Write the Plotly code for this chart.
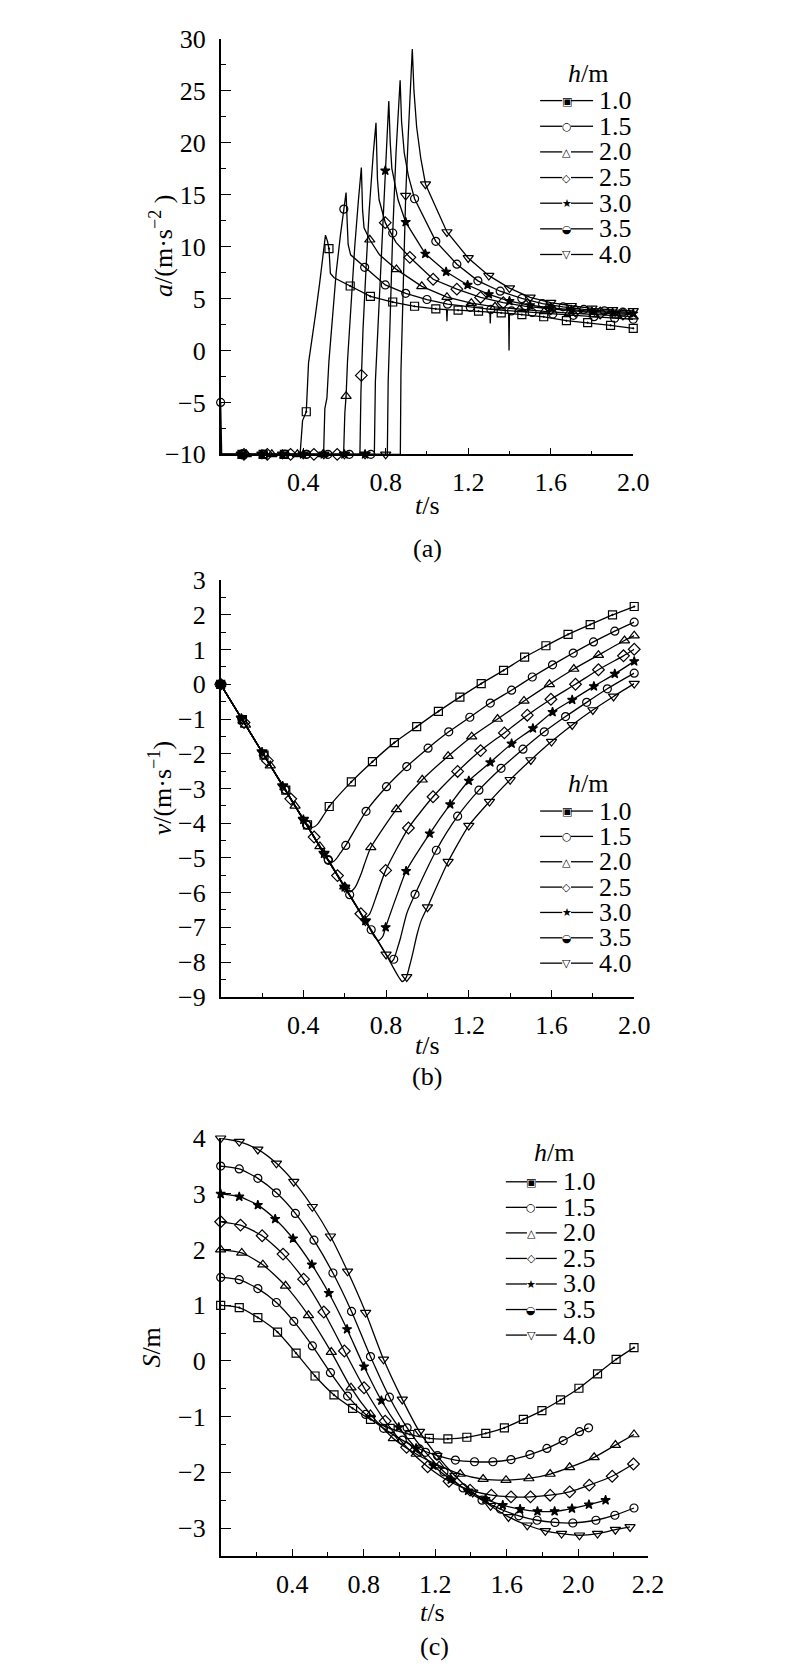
import plotly.graph_objects as go

SERIF = "Liberation Serif"
H_LABELS = ["1.0", "1.5", "2.0", "2.5", "3.0", "3.5", "4.0"]

# ---------------- panel (a): acceleration a (m/s^2) vs t (s) ----------------
A_T_10 = [0, 0.385, 0.397, 0.408, 0.415, 0.426, 0.442, 0.46, 0.48, 0.497, 0.508, 0.518, 0.525, 0.532, 0.55, 0.628, 0.726, 0.834, 0.94, 1.043, 1.095, 1.097, 1.099, 1.151, 1.25, 1.305, 1.307, 1.309, 1.36, 1.396, 1.398, 1.40, 1.46, 1.566, 1.676, 1.779, 1.89, 2.0]
A_V_10 = [-10, -10, -6.75, -6.3, -5.9, -1.2, 0.9, 3.5, 6.5, 9.5, 11.1, 10.5, 9.8, 7.4, 7.0, 6.2, 5.2, 4.66, 4.25, 4.0, 3.92, 2.8, 3.92, 3.87, 3.78, 3.7, 2.6, 3.7, 3.62, 3.57, 0.0, 3.56, 3.45, 3.24, 2.86, 2.67, 2.42, 2.13]
A_MT_10 = [0.103, 0.206, 0.309, 0.415, 0.525, 0.628, 0.726, 0.834, 0.94, 1.043, 1.151, 1.25, 1.36, 1.46, 1.566, 1.676, 1.779, 1.89, 2.0]
A_MV_10 = [-10, -10, -10, -5.9, 9.8, 6.2, 5.2, 4.66, 4.25, 4.0, 3.87, 3.78, 3.62, 3.45, 3.24, 2.86, 2.67, 2.42, 2.13]

A_T_15 = [0, 0.499, 0.505, 0.515, 0.525, 0.54, 0.56, 0.58, 0.597, 0.608, 0.613, 0.618, 0.63, 0.698, 0.798, 0.897, 1.0, 1.1, 1.21, 1.31, 1.41, 1.51, 1.61, 1.71, 1.81, 1.91, 2.0]
A_V_15 = [-10, -10, -5.6, -4.6, -1.0, 3.0, 7.5, 11.0, 13.6, 15.2, 12.5, 10.2, 9.2, 8.0, 6.3, 5.5, 4.9, 4.45, 4.15, 3.95, 3.8, 3.65, 3.5, 3.38, 3.25, 3.1, 3.0]
A_MT_15 = [0.104, 0.208, 0.312, 0.416, 0.597, 0.698, 0.798, 0.897, 1.0, 1.1, 1.21, 1.31, 1.41, 1.51, 1.61, 1.71, 1.81, 1.91, 2.0]
A_MV_15 = [-10, -10, -10, -10, 13.6, 8.0, 6.3, 5.5, 4.9, 4.45, 4.15, 3.95, 3.8, 3.65, 3.5, 3.38, 3.25, 3.1, 3.0]

A_T_20 = [0, 0.596, 0.602, 0.608, 0.615, 0.632, 0.65, 0.668, 0.682, 0.688, 0.695, 0.723, 0.77, 0.852, 0.975, 1.097, 1.215, 1.33, 1.45, 1.57, 1.69, 1.81, 1.92, 2.0]
A_V_20 = [-10, -10, -6.0, -4.4, -1.0, 4.8, 10.0, 14.5, 17.6, 13.5, 11.8, 10.65, 9.2, 7.8, 6.17, 5.13, 4.55, 4.2, 3.95, 3.75, 3.6, 3.45, 3.35, 3.25]
A_MT_20 = [0.124, 0.248, 0.372, 0.496, 0.608, 0.723, 0.852, 0.975, 1.097, 1.215, 1.33, 1.45, 1.57, 1.69, 1.81, 1.92, 2.0]
A_MV_20 = [-10, -10, -10, -10, -4.4, 10.65, 7.8, 6.17, 5.13, 4.55, 4.2, 3.95, 3.75, 3.6, 3.45, 3.35, 3.25]

A_T_25 = [0, 0.675, 0.68, 0.682, 0.69, 0.705, 0.72, 0.74, 0.753, 0.76, 0.768, 0.798, 0.85, 0.917, 1.03, 1.145, 1.26, 1.37, 1.48, 1.6, 1.72, 1.84, 1.95, 2.0]
A_V_25 = [-10, -10, -4.0, -2.4, 2.0, 8.0, 13.5, 19.0, 21.9, 16.5, 14.5, 12.3, 10.4, 8.96, 6.85, 5.9, 5.1, 4.6, 4.25, 4.0, 3.8, 3.6, 3.5, 3.45]
A_MT_25 = [0.113, 0.226, 0.339, 0.452, 0.565, 0.682, 0.798, 0.917, 1.03, 1.145, 1.26, 1.37, 1.48, 1.6, 1.72, 1.84, 1.95]
A_MV_25 = [-10, -10, -10, -10, -10, -2.4, 12.3, 8.96, 6.85, 5.9, 5.1, 4.6, 4.25, 4.0, 3.8, 3.6, 3.5]

A_T_30 = [0, 0.745, 0.75, 0.76, 0.775, 0.79, 0.798, 0.808, 0.815, 0.822, 0.83, 0.86, 0.897, 0.992, 1.093, 1.197, 1.3, 1.4, 1.5, 1.6, 1.7, 1.8, 1.9, 2.0]
A_V_30 = [-10, -10, -3.0, 1.0, 7.0, 13.5, 17.3, 21.5, 24.0, 20.0, 17.5, 14.5, 12.35, 9.3, 7.57, 6.3, 5.4, 4.75, 4.35, 4.1, 3.9, 3.75, 3.65, 3.55]
A_MT_30 = [0.1, 0.2, 0.3, 0.4, 0.5, 0.6, 0.7, 0.798, 0.897, 0.992, 1.093, 1.197, 1.3, 1.4, 1.5, 1.6, 1.7, 1.8, 1.9, 2.0]
A_MV_30 = [-10, -10, -10, -10, -10, -10, -10, 17.3, 12.35, 9.3, 7.57, 6.3, 5.4, 4.75, 4.35, 4.1, 3.9, 3.75, 3.65, 3.55]

A_T_35 = [0, 0.005, 0.808, 0.812, 0.82, 0.834, 0.85, 0.862, 0.87, 0.877, 0.89, 0.91, 0.94, 1.043, 1.145, 1.247, 1.355, 1.46, 1.56, 1.66, 1.76, 1.86, 1.95, 2.0]
A_V_35 = [-5, -10, -10, -3.0, 2.0, 11.3, 19.0, 23.5, 26.0, 22.0, 19.0, 16.8, 14.6, 10.5, 8.3, 6.7, 5.7, 5.0, 4.5, 4.2, 3.95, 3.8, 3.7, 3.65]
A_MT_35 = [0, 0.104, 0.208, 0.312, 0.416, 0.52, 0.624, 0.728, 0.834, 0.94, 1.043, 1.145, 1.247, 1.355, 1.46, 1.56, 1.66, 1.76, 1.86, 1.95]
A_MV_35 = [-5, -10, -10, -10, -10, -10, -10, -10, 11.3, 14.6, 10.5, 8.3, 6.7, 5.7, 5.0, 4.5, 4.2, 3.95, 3.8, 3.7]

A_T_40 = [0, 0.871, 0.874, 0.88, 0.89, 0.897, 0.91, 0.92, 0.929, 0.937, 0.95, 0.97, 0.993, 1.097, 1.2, 1.3, 1.4, 1.5, 1.6, 1.7, 1.8, 1.9, 2.0]
A_V_40 = [-10, -10, -2.0, 2.5, 9.0, 14.9, 21.0, 25.5, 29.0, 25.0, 21.5, 18.5, 16.0, 11.4, 8.9, 7.2, 6.0, 5.1, 4.6, 4.3, 4.05, 3.9, 3.8]
A_MT_40 = [0.1, 0.2, 0.3, 0.4, 0.5, 0.6, 0.7, 0.8, 0.897, 0.993, 1.097, 1.2, 1.3, 1.4, 1.5, 1.6, 1.7, 1.8, 1.9, 2.0]
A_MV_40 = [-10, -10, -10, -10, -10, -10, -10, -10, 14.9, 16.0, 11.4, 8.9, 7.2, 6.0, 5.1, 4.6, 4.3, 4.05, 3.9, 3.8]

# ---------------- panel (b): velocity v (m/s) vs t (s) ----------------
B_T_10 = [0, 0.105, 0.21, 0.315, 0.42, 0.445, 0.47, 0.5, 0.525, 0.632, 0.734, 0.84, 0.948, 1.053, 1.157, 1.26, 1.368, 1.47, 1.573, 1.68, 1.787, 1.895, 2.0]
B_V_10 = [0, -1.02, -2.04, -3.05, -4.05, -4.12, -4.02, -3.75, -3.52, -2.81, -2.23, -1.68, -1.22, -0.78, -0.37, 0.02, 0.4, 0.78, 1.11, 1.44, 1.72, 2.0, 2.24]
B_MT_10 = [0, 0.105, 0.21, 0.315, 0.42, 0.525, 0.632, 0.734, 0.84, 0.948, 1.053, 1.157, 1.26, 1.368, 1.47, 1.573, 1.68, 1.787, 1.895, 2.0]
B_MV_10 = [0, -1.02, -2.04, -3.05, -4.05, -3.52, -2.81, -2.23, -1.68, -1.22, -0.78, -0.37, 0.02, 0.4, 0.78, 1.11, 1.44, 1.72, 2.0, 2.24]

B_T_15 = [0, 0.104, 0.208, 0.312, 0.416, 0.521, 0.54, 0.56, 0.58, 0.605, 0.703, 0.802, 0.9, 1.003, 1.103, 1.205, 1.304, 1.407, 1.507, 1.605, 1.705, 1.803, 1.906, 2.0]
B_V_15 = [0, -1.01, -2.03, -3.04, -4.05, -5.07, -5.12, -5.02, -4.85, -4.64, -3.66, -2.95, -2.37, -1.84, -1.37, -0.95, -0.54, -0.17, 0.21, 0.56, 0.9, 1.22, 1.53, 1.79]
B_MT_15 = [0, 0.104, 0.208, 0.312, 0.416, 0.521, 0.605, 0.703, 0.802, 0.9, 1.003, 1.103, 1.205, 1.304, 1.407, 1.507, 1.605, 1.705, 1.803, 1.906, 2.0]
B_MV_15 = [0, -1.01, -2.03, -3.04, -4.05, -5.07, -4.64, -3.66, -2.95, -2.37, -1.84, -1.37, -0.95, -0.54, -0.17, 0.21, 0.56, 0.9, 1.22, 1.53, 1.79]

B_T_20 = [0, 0.12, 0.24, 0.36, 0.48, 0.6, 0.625, 0.65, 0.68, 0.70, 0.726, 0.85, 0.975, 1.1, 1.214, 1.339, 1.467, 1.59, 1.708, 1.827, 1.953, 2.0]
B_V_20 = [0, -1.17, -2.34, -3.5, -4.67, -5.83, -5.98, -5.85, -5.45, -5.1, -4.7, -3.6, -2.75, -2.07, -1.51, -1.0, -0.48, 0.0, 0.44, 0.84, 1.26, 1.4]
B_MT_20 = [0, 0.12, 0.24, 0.36, 0.48, 0.6, 0.726, 0.85, 0.975, 1.1, 1.214, 1.339, 1.467, 1.59, 1.708, 1.827, 1.953, 2.0]
B_MV_20 = [0, -1.17, -2.34, -3.5, -4.67, -5.83, -4.7, -3.6, -2.75, -2.07, -1.51, -1.0, -0.48, 0.0, 0.44, 0.84, 1.26, 1.4]

B_T_25 = [0, 0.113, 0.226, 0.339, 0.452, 0.565, 0.678, 0.692, 0.72, 0.753, 0.798, 0.908, 1.027, 1.146, 1.257, 1.372, 1.483, 1.597, 1.716, 1.827, 1.948, 2.0]
B_V_25 = [0, -1.1, -2.2, -3.3, -4.4, -5.51, -6.61, -6.75, -6.62, -6.1, -5.36, -4.14, -3.24, -2.51, -1.91, -1.4, -0.89, -0.43, 0.0, 0.42, 0.82, 1.01]
B_MT_25 = [0, 0.113, 0.226, 0.339, 0.452, 0.565, 0.678, 0.798, 0.908, 1.027, 1.146, 1.257, 1.372, 1.483, 1.597, 1.716, 1.827, 1.948, 2.0]
B_MV_25 = [0, -1.1, -2.2, -3.3, -4.4, -5.51, -6.61, -5.36, -4.14, -3.24, -2.51, -1.91, -1.4, -0.89, -0.43, 0.0, 0.42, 0.82, 1.01]

B_T_30 = [0, 0.1, 0.2, 0.3, 0.4, 0.5, 0.6, 0.7, 0.745, 0.765, 0.785, 0.798, 0.815, 0.86, 0.897, 1.011, 1.11, 1.2, 1.304, 1.407, 1.51, 1.605, 1.70, 1.805, 1.906, 2.0]
B_V_30 = [0, -0.98, -1.95, -2.93, -3.9, -4.88, -5.85, -6.82, -7.28, -7.38, -7.25, -7.0, -6.7, -5.95, -5.38, -4.3, -3.46, -2.78, -2.25, -1.71, -1.27, -0.8, -0.45, -0.06, 0.3, 0.66]
B_MT_30 = [0, 0.1, 0.2, 0.3, 0.4, 0.5, 0.6, 0.7, 0.798, 0.897, 1.011, 1.11, 1.2, 1.304, 1.407, 1.51, 1.605, 1.70, 1.805, 1.906, 2.0]
B_MV_30 = [0, -0.98, -1.95, -2.93, -3.9, -4.88, -5.85, -6.82, -7.0, -5.38, -4.3, -3.46, -2.78, -2.25, -1.71, -1.27, -0.8, -0.45, -0.06, 0.3, 0.66]

B_T_35 = [0, 0.104, 0.208, 0.312, 0.416, 0.52, 0.624, 0.728, 0.8, 0.824, 0.837, 0.855, 0.87, 0.9, 0.94, 1.043, 1.146, 1.249, 1.356, 1.462, 1.565, 1.668, 1.77, 1.87, 1.97, 2.0]
B_V_35 = [0, -1.01, -2.02, -3.03, -4.04, -5.05, -6.06, -7.07, -7.78, -7.99, -7.92, -7.6, -7.3, -6.6, -6.05, -4.78, -3.8, -3.05, -2.42, -1.87, -1.37, -0.93, -0.52, -0.13, 0.22, 0.32]
B_MT_35 = [0, 0.104, 0.208, 0.312, 0.416, 0.52, 0.624, 0.728, 0.837, 0.94, 1.043, 1.146, 1.249, 1.356, 1.462, 1.565, 1.668, 1.77, 1.87, 2.0]
B_MV_35 = [0, -1.01, -2.02, -3.03, -4.04, -5.05, -6.06, -7.07, -7.92, -6.05, -4.78, -3.8, -3.05, -2.42, -1.87, -1.37, -0.93, -0.52, -0.13, 0.32]

B_T_40 = [0, 0.1, 0.2, 0.3, 0.4, 0.5, 0.6, 0.7, 0.8, 0.878, 0.897, 0.912, 0.929, 0.95, 0.97, 1.0, 1.1, 1.2, 1.3, 1.4, 1.5, 1.6, 1.7, 1.8, 1.9, 2.0]
B_V_40 = [0, -0.98, -1.95, -2.93, -3.9, -4.88, -5.85, -6.82, -7.78, -8.56, -8.45, -8.15, -7.75, -7.2, -6.8, -6.42, -5.11, -4.07, -3.38, -2.75, -2.18, -1.65, -1.17, -0.74, -0.35, 0.02]
B_MT_40 = [0, 0.1, 0.2, 0.3, 0.4, 0.5, 0.6, 0.7, 0.8, 0.9, 1.0, 1.1, 1.2, 1.3, 1.4, 1.5, 1.6, 1.7, 1.8, 1.9, 2.0]
B_MV_40 = [0, -0.98, -1.95, -2.93, -3.9, -4.88, -5.85, -6.82, -7.78, -8.43, -6.42, -5.11, -4.07, -3.38, -2.75, -2.18, -1.65, -1.17, -0.74, -0.35, 0.02]

# ---------------- panel (c): displacement S (m) vs t (s) ----------------
C_T_10 = [0, 0.104, 0.208, 0.318, 0.422, 0.528, 0.634, 0.738, 0.838, 0.948, 1.058, 1.167, 1.271, 1.377, 1.483, 1.587, 1.693, 1.797, 1.901, 2.004, 2.108, 2.212, 2.312]
C_S_10 = [1.0, 0.96, 0.78, 0.52, 0.14, -0.27, -0.61, -0.85, -1.05, -1.21, -1.32, -1.39, -1.4, -1.37, -1.3, -1.2, -1.05, -0.89, -0.7, -0.49, -0.23, 0.03, 0.24]
C_T_15 = [0, 0.104, 0.208, 0.312, 0.409, 0.513, 0.614, 0.71, 0.811, 0.911, 1.016, 1.112, 1.213, 1.313, 1.42, 1.523, 1.624, 1.73, 1.825, 1.916, 2.007, 2.058]
C_S_15 = [1.5, 1.46, 1.3, 1.05, 0.71, 0.27, -0.21, -0.63, -0.96, -1.21, -1.42, -1.58, -1.7, -1.78, -1.81, -1.81, -1.77, -1.68, -1.57, -1.43, -1.27, -1.2]
C_T_20 = [0, 0.118, 0.236, 0.363, 0.491, 0.619, 0.729, 0.838, 0.966, 1.094, 1.222, 1.34, 1.468, 1.596, 1.724, 1.843, 1.952, 2.089, 2.208, 2.312]
C_S_20 = [2.0, 1.94, 1.73, 1.35, 0.82, 0.16, -0.48, -0.96, -1.39, -1.67, -1.88, -2.03, -2.12, -2.14, -2.11, -2.03, -1.91, -1.73, -1.51, -1.32]
C_T_25 = [0, 0.111, 0.232, 0.349, 0.464, 0.577, 0.692, 0.802, 0.92, 1.04, 1.158, 1.277, 1.395, 1.514, 1.624, 1.733, 1.843, 1.952, 2.062, 2.19, 2.309]
C_S_25 = [2.5, 2.44, 2.25, 1.92, 1.47, 0.88, 0.18, -0.48, -1.08, -1.55, -1.9, -2.16, -2.32, -2.41, -2.44, -2.44, -2.41, -2.35, -2.23, -2.07, -1.85]
C_T_30 = [0, 0.104, 0.208, 0.305, 0.405, 0.51, 0.605, 0.707, 0.802, 0.899, 0.996, 1.093, 1.19, 1.287, 1.384, 1.481, 1.578, 1.675, 1.772, 1.868, 1.965, 2.06, 2.153]
C_S_30 = [3.0, 2.95, 2.8, 2.55, 2.2, 1.73, 1.22, 0.57, -0.1, -0.71, -1.19, -1.57, -1.88, -2.13, -2.33, -2.48, -2.59, -2.66, -2.7, -2.7, -2.65, -2.58, -2.5]
C_T_35 = [0, 0.104, 0.208, 0.312, 0.418, 0.522, 0.628, 0.732, 0.838, 0.944, 1.043, 1.146, 1.249, 1.356, 1.462, 1.565, 1.668, 1.77, 1.87, 1.97, 2.099, 2.205, 2.312]
C_S_35 = [3.5, 3.45, 3.28, 3.02, 2.65, 2.17, 1.58, 0.89, 0.08, -0.65, -1.2, -1.64, -1.99, -2.28, -2.5, -2.66, -2.78, -2.86, -2.9, -2.91, -2.86, -2.77, -2.64]
C_T_40 = [0, 0.104, 0.208, 0.312, 0.409, 0.513, 0.614, 0.71, 0.811, 0.911, 1.016, 1.112, 1.21, 1.31, 1.41, 1.51, 1.61, 1.715, 1.816, 1.907, 2.007, 2.108, 2.208, 2.29]
C_S_40 = [4.0, 3.94, 3.8, 3.55, 3.22, 2.77, 2.24, 1.61, 0.87, 0.03, -0.69, -1.27, -1.7, -2.06, -2.36, -2.6, -2.8, -2.95, -3.05, -3.1, -3.13, -3.1, -3.03, -2.98]

# axis ticks
X_TICKS = [0.4, 0.8, 1.2, 1.6, 2.0]
X_TEXT = ["0.4", "0.8", "1.2", "1.6", "2.0"]
X_TICKS_C = [0.4, 0.8, 1.2, 1.6, 2.0, 2.39]
X_TEXT_C = ["0.4", "0.8", "1.2", "1.6", "2.0", "2.2"]

A_LINES = [(A_T_10, A_V_10), (A_T_15, A_V_15), (A_T_20, A_V_20), (A_T_25, A_V_25), (A_T_30, A_V_30), (A_T_35, A_V_35), (A_T_40, A_V_40)]
A_MARKS = [(A_MT_10, A_MV_10), (A_MT_15, A_MV_15), (A_MT_20, A_MV_20), (A_MT_25, A_MV_25), (A_MT_30, A_MV_30), (A_MT_35, A_MV_35), (A_MT_40, A_MV_40)]
B_LINES = [(B_T_10, B_V_10), (B_T_15, B_V_15), (B_T_20, B_V_20), (B_T_25, B_V_25), (B_T_30, B_V_30), (B_T_35, B_V_35), (B_T_40, B_V_40)]
B_MARKS = [(B_MT_10, B_MV_10), (B_MT_15, B_MV_15), (B_MT_20, B_MV_20), (B_MT_25, B_MV_25), (B_MT_30, B_MV_30), (B_MT_35, B_MV_35), (B_MT_40, B_MV_40)]
C_LINES = [(C_T_10, C_S_10), (C_T_15, C_S_15), (C_T_20, C_S_20), (C_T_25, C_S_25), (C_T_30, C_S_30), (C_T_35, C_S_35), (C_T_40, C_S_40)]

SYMBOLS = ["square-open-dot", "circle-open", "triangle-up-open", "diamond-open", "star", "circle-open", "triangle-down-open"]
SIZES = [8, 8, 9, 9, 7, 8, 9]
LEGEND_GLYPHS = ["▣", "○", "△", "◇", "★", "◒", "▽"]

W, H = 800, 1669
def px(x):
    return x / W
def py(y):
    return 1 - y / H

fig = go.Figure()

def marker(i):
    return dict(symbol=SYMBOLS[i], size=SIZES[i], color="black",
                line=dict(color="black", width=1.2))

for i, lab in enumerate(H_LABELS):
    # panel a
    t, v = A_LINES[i]
    fig.add_trace(go.Scatter(x=t, y=v, mode="lines", name=lab, line=dict(color="black", width=1.3),
                             xaxis="x", yaxis="y", showlegend=False, cliponaxis=False))
    t, v = A_MARKS[i]
    fig.add_trace(go.Scatter(x=t, y=v, mode="markers", name=lab, marker=marker(i),
                             xaxis="x", yaxis="y", showlegend=False, cliponaxis=False))
    # panel b
    t, v = B_LINES[i]
    fig.add_trace(go.Scatter(x=t, y=v, mode="lines", name=lab,
                             line=dict(color="black", width=1.3, shape="spline", smoothing=0.6),
                             xaxis="x2", yaxis="y2", showlegend=False, cliponaxis=False))
    t, v = B_MARKS[i]
    fig.add_trace(go.Scatter(x=t, y=v, mode="markers", name=lab, marker=marker(i),
                             xaxis="x2", yaxis="y2", showlegend=False, cliponaxis=False))
    # panel c
    t, s = C_LINES[i]
    fig.add_trace(go.Scatter(x=t, y=s, mode="lines+markers", name=lab,
                             line=dict(color="black", width=1.3, shape="spline", smoothing=0.6),
                             marker=marker(i), xaxis="x3", yaxis="y3", showlegend=False, cliponaxis=False))

axis_common = dict(showline=True, linecolor="black", linewidth=1.5, showgrid=False, zeroline=False,
                   ticks="inside", tickcolor="black", tickwidth=1.3,
                   tickfont=dict(family=SERIF, size=26, color="black"))

xa = dict(axis_common, ticklen=7, tickmode="array", tickvals=X_TICKS, ticktext=X_TEXT,
          minor=dict(ticks="inside", ticklen=4, tickcolor="black", tickwidth=1.2, tickmode="linear", tick0=0, dtick=0.2, showgrid=False),
          ticklabelstandoff=4)

fig.update_layout(
    width=W, height=H, margin=dict(l=0, r=0, t=0, b=0),
    paper_bgcolor="white", plot_bgcolor="white", showlegend=False,
    font=dict(family=SERIF, color="black", size=26),
    xaxis=dict(xa, domain=[px(217), px(638)], range=[0, 2.0], anchor="y"),
    yaxis=dict(axis_common, domain=[py(440), py(17)], range=[-10, 30], anchor="x",
               tickmode="linear", tick0=-10, dtick=5, ticklen=11, ticklabelstandoff=8,
               minor=dict(ticks="inside", ticklen=6, tickcolor="black", tickwidth=1.2, dtick=2.5, tick0=-10, showgrid=False)),
    xaxis2=dict(xa, domain=[px(217), px(639)], range=[0, 2.0], anchor="y2"),
    yaxis2=dict(axis_common, domain=[py(992), py(568)], range=[-9, 3], anchor="x2",
                tickmode="linear", tick0=-9, dtick=1, ticklen=11, ticklabelstandoff=8,
                minor=dict(ticks="inside", ticklen=6, tickcolor="black", tickwidth=1.2, dtick=0.5, tick0=-9, showgrid=False)),
    xaxis3=dict(xa, domain=[px(217), px(653)], range=[0, 2.39], anchor="y3", tickvals=X_TICKS_C, ticktext=X_TEXT_C),
    yaxis3=dict(axis_common, domain=[py(1561), py(1136)], range=[-3.5, 4.0], anchor="x3",
                tickmode="linear", tick0=-3, dtick=1, ticklen=11, ticklabelstandoff=8,
                minor=dict(ticks="inside", ticklen=6, tickcolor="black", tickwidth=1.2, dtick=0.5, tick0=-3.5, showgrid=False)),
)

ann = []
shapes = []
def text(x, y, s, size=26, angle=0, xanchor="center", family=SERIF, box_h=None):
    a = dict(x=px(x), y=py(y), xref="paper", yref="paper", text=s, showarrow=False,
             xanchor=xanchor, yanchor="middle", textangle=angle, borderpad=0,
             font=dict(family=family, size=size, color="black"))
    if box_h is not None:
        a["height"] = box_h
        a["valign"] = "middle"
    ann.append(a)

def hline(x0, x1, y):
    shapes.append(dict(type="line", xref="paper", yref="paper", x0=px(x0), x1=px(x1), y0=py(y), y1=py(y),
                       line=dict(color="black", width=1.3)))

# legend block: title, line samples with glyphs, labels
def legend_block(title_x, title_y, y0, dy, xl, xr, xt):
    text(title_x, title_y, "<i>h</i>/m", size=26, box_h=24)
    xm = (xl + xr) / 2
    for k, lab in enumerate(H_LABELS):
        y = y0 + k * dy
        hline(xl, xm - 4.5, y)
        hline(xm + 4.5, xr, y)
        text(xm, y, LEGEND_GLYPHS[k], size=11, family="DejaVu Sans", box_h=12)
        text(xt, y, lab, size=26, xanchor="left", box_h=23)

legend_block(592, 52, 80, 26.1, 543, 597, 602)
legend_block(592, 774, 803, 25.8, 543, 597, 602)
legend_block(557, 1150, 1180.3, 26.0, 508, 560, 565)

text(428, 492, "<i>t</i>/s")
text(428, 536, "(a)")
text(156, 228, "<i>a</i>/(m·s<sup>−2</sup> )", angle=-90)

text(428, 1042, "<i>t</i>/s")
text(428, 1073, "(b)")
text(156, 780, "<i>v</i>/(m·s<sup>−1</sup>)", angle=-90)

text(433, 1619, "<i>t</i>/s")
text(435, 1653, "(c)")
text(147, 1349, "<i>S</i>/m", angle=-90)

fig.update_layout(annotations=ann, shapes=shapes)
fig.write_html("out.html")
